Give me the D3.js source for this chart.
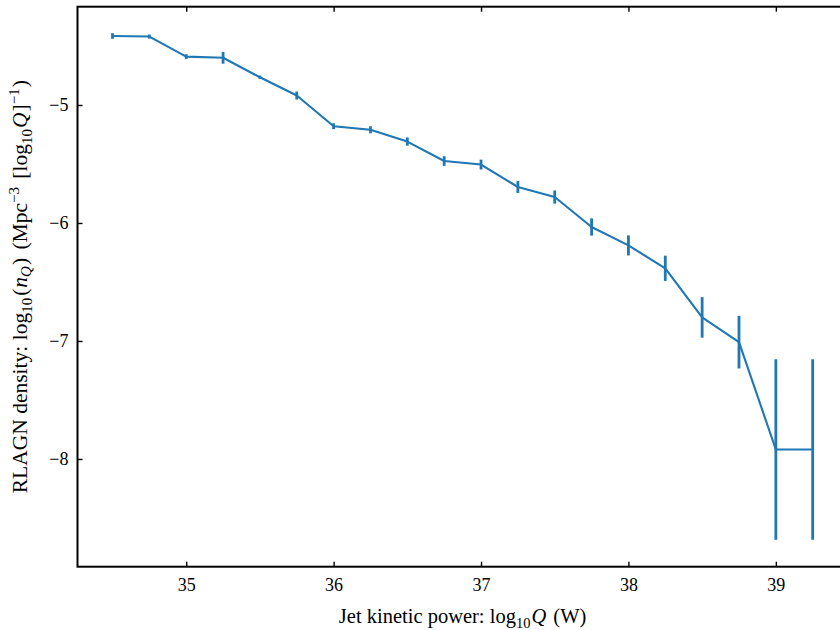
<!DOCTYPE html>
<html>
<head>
<meta charset="utf-8">
<script src="https://cdn.jsdelivr.net/npm/d3@7"></script>
<style>
  body { margin: 0; background: #fff; }
  svg { display: block; }
  text { font-family: "Liberation Serif", "DejaVu Serif", serif; fill: #000; }
</style>
</head>
<body>
<div id="chart"></div>
<script>
// Jet kinetic power bins (log10 Q, W)
const logQ = [34.5, 34.75, 35, 35.25, 35.5, 35.75, 36, 36.25, 36.5, 36.75,
              37, 37.25, 37.5, 37.75, 38, 38.25, 38.5, 38.75, 39, 39.25];
// log10 space density and its error
const logDensity = [-4.415, -4.42, -4.59, -4.60, -4.765, -4.92, -5.18, -5.21, -5.31, -5.475,
                    -5.505, -5.695, -5.78, -6.034, -6.19, -6.384, -6.80, -7.01, -7.92, -7.92];
const densityErr = [0.024, 0.017, 0.02, 0.05, 0.014, 0.034, 0.025, 0.03, 0.035, 0.041,
                    0.042, 0.051, 0.056, 0.073, 0.085, 0.107, 0.172, 0.223, 0.765, 0.765];
const xTicks = [35, 36, 37, 38, 39];
const yTicks = [-5, -6, -7, -8];

const width = 840, height = 630;
// right spine falls just outside the picture, as in the original
const plotLeft = 77.5, plotTop = 6.7, plotBottom = 566.7, plotRight = 847.7;

const points = logQ.map((q, i) => ({ q: q, y: logDensity[i], e: densityErr[i] }));

const x = d3.scaleLinear().domain([34.2625, 39.4875]).range([plotLeft, plotRight]);
const y = d3.scaleLinear().domain([-8.913, -4.167]).range([plotBottom, plotTop]);

const svg = d3.select('#chart').append('svg')
  .attr('width', width)
  .attr('height', height);

const blue = '#1f77b4';

// Series line
svg.append('path')
  .datum(points)
  .attr('fill', 'none')
  .attr('stroke', blue)
  .attr('stroke-width', 2.1)
  .attr('stroke-linejoin', 'round')
  .attr('d', d3.line().x(d => x(d.q)).y(d => y(d.y)));

// Error bars
svg.append('g')
  .selectAll('line')
  .data(points)
  .enter()
  .append('line')
  .attr('x1', d => x(d.q))
  .attr('x2', d => x(d.q))
  .attr('y1', d => y(d.y - d.e))
  .attr('y2', d => y(d.y + d.e))
  .attr('stroke', blue)
  .attr('stroke-width', 2.8);

// Axes with inward ticks
const xAxisBottom = svg.append('g')
  .attr('transform', `translate(0,${plotBottom})`)
  .call(d3.axisBottom(x).tickValues(xTicks).tickSize(-5).tickPadding(12).tickFormat(d3.format('d')));
const xAxisTop = svg.append('g')
  .attr('transform', `translate(0,${plotTop})`)
  .call(d3.axisTop(x).tickValues(xTicks).tickSize(-5).tickFormat(''));
const yAxisLeft = svg.append('g')
  .attr('transform', `translate(${plotLeft},0)`)
  .call(d3.axisLeft(y).tickValues(yTicks).tickSize(-5).tickPadding(9)
    .tickFormat(d => '\u2212' + Math.abs(d)));

[xAxisBottom, xAxisTop, yAxisLeft].forEach(g => {
  g.attr('font-family', null).attr('font-size', null);
  g.select('.domain').remove();
  g.selectAll('.tick line').attr('stroke', '#000').attr('stroke-width', 1.4);
  g.selectAll('.tick text').attr('font-size', 18);
});

// Frame
svg.append('rect')
  .attr('x', plotLeft)
  .attr('y', plotTop)
  .attr('width', plotRight - plotLeft)
  .attr('height', plotBottom - plotTop)
  .attr('fill', 'none')
  .attr('stroke', '#000')
  .attr('stroke-width', 2);

// X label
const xl = svg.append('text')
  .attr('x', (plotLeft + plotRight) / 2)
  .attr('y', 623)
  .attr('text-anchor', 'middle')
  .attr('font-size', 20.5);
xl.append('tspan').text('Jet kinetic power: log');
xl.append('tspan').attr('font-size', 14.5).attr('dy', 5).text('10');
xl.append('tspan').attr('dy', -5).attr('dx', 1).attr('font-style', 'italic').text('Q');
xl.append('tspan').attr('dx', 2).text(' (W)');

// Y label
const yl = svg.append('text')
  .attr('transform', `translate(27,${(plotTop + plotBottom) / 2}) rotate(-90)`)
  .attr('text-anchor', 'middle')
  .attr('font-size', 21.5);
yl.append('tspan').text('RLAGN density: log');
yl.append('tspan').attr('font-size', 15).attr('dy', 5).text('10');
yl.append('tspan').attr('dy', -5).attr('dx', 2).text('(');
yl.append('tspan').attr('font-style', 'italic').attr('dx', 1).text('n');
yl.append('tspan').attr('font-style', 'italic').attr('font-size', 15).attr('dy', 4).text('Q');
yl.append('tspan').attr('dy', -4).attr('dx', 1).text(')');
yl.append('tspan').attr('dx', 3).text(' (Mpc');
yl.append('tspan').attr('font-size', 15).attr('dy', -8).text('\u22123');
yl.append('tspan').attr('dy', 8).attr('dx', 3).text(' [log');
yl.append('tspan').attr('font-size', 15).attr('dy', 5).text('10');
yl.append('tspan').attr('dy', -5).attr('dx', 1).attr('font-style', 'italic').text('Q');
yl.append('tspan').attr('dx', 1).text(']');
yl.append('tspan').attr('font-size', 15).attr('dy', -8).text('\u22121');
yl.append('tspan').attr('dy', 8).attr('dx', 1).text(')');
</script>
</body>
</html>
